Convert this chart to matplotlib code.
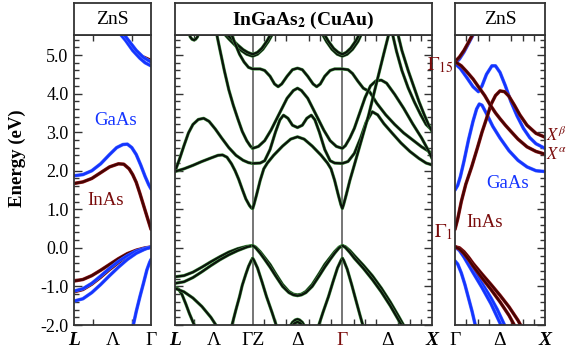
import matplotlib
matplotlib.use('Agg')
import matplotlib.pyplot as plt
import matplotlib.patheffects as pe
from matplotlib.ticker import MultipleLocator, FixedLocator, FormatStrFormatter

plt.rcParams['font.family'] = ['Liberation Serif', 'DejaVu Serif']
plt.rcParams['mathtext.fontset'] = 'stix'
plt.rcParams['axes.unicode_minus'] = False

# ---- ZnS-like folded bands, L -> Gamma (left panel), k in 2pi/a
gaas_l_cb = [(0, 1.87), (0.1, 1.9), (0.2, 2.0), (0.3, 2.18), (0.4, 2.42), (0.48, 2.6), (0.55, 2.68),
             (0.6, 2.69), (0.65, 2.6), (0.7, 2.42), (0.75, 2.15), (0.8, 1.85), (0.84, 1.64), (0.866, 1.53)]
inas_l_cb = [(0, 1.67), (0.1, 1.71), (0.2, 1.8), (0.3, 1.95), (0.4, 2.1), (0.5, 2.18), (0.56, 2.17),
             (0.62, 2.05), (0.66, 1.9), (0.7, 1.7), (0.74, 1.42), (0.78, 1.12), (0.82, 0.82), (0.866, 0.48)]
gaas_l_hi1 = [(0.5, 5.6), (0.58, 5.38), (0.66, 5.12), (0.74, 4.92), (0.8, 4.8), (0.866, 4.72)]
gaas_l_hi2 = [(0.54, 5.6), (0.62, 5.36), (0.7, 5.12), (0.78, 4.94), (0.866, 4.82)]
inas_l_hi = [(0.52, 5.6), (0.6, 5.4), (0.68, 5.15), (0.76, 4.97), (0.866, 4.86)]
inas_l_v1 = [(0, -0.86), (0.1, -0.82), (0.2, -0.72), (0.3, -0.58), (0.4, -0.43), (0.5, -0.28),
             (0.6, -0.15), (0.7, -0.06), (0.8, 0.0), (0.866, 0.02)]
inas_l_v2 = [(0, -1.14), (0.1, -1.08), (0.2, -0.94), (0.3, -0.76), (0.4, -0.56), (0.5, -0.38),
             (0.6, -0.22), (0.7, -0.1), (0.8, -0.02), (0.866, 0.02)]
gaas_l_v1 = [(0, -1.12), (0.1, -1.06), (0.2, -0.92), (0.3, -0.73), (0.4, -0.53), (0.5, -0.35),
             (0.6, -0.2), (0.7, -0.08), (0.8, -0.01), (0.866, 0.02)]
gaas_l_v2 = [(0, -1.38), (0.1, -1.32), (0.2, -1.16), (0.3, -0.95), (0.4, -0.72), (0.5, -0.5),
             (0.6, -0.3), (0.7, -0.14), (0.8, -0.03), (0.866, 0.02)]
gaas_l_so = [(0.866, -0.3), (0.85, -0.38), (0.82, -0.57), (0.78, -0.93), (0.742, -1.26),
             (0.7, -1.65), (0.667, -2.0), (0.66, -2.06)]

# ---- InGaAs2 (CuAu): L -> Gamma(Z) -> Gamma -> X
m_arc = [(0.15, 5.6), (0.17, 5.47), (0.19, 5.41), (0.21, 5.39), (0.23, 5.41), (0.25, 5.47), (0.27, 5.6)]
m_steep = [(0.46, 5.6), (0.5, 5.15), (0.55, 4.6), (0.6, 4.1), (0.65, 3.7), (0.7, 3.35), (0.75, 3.02),
           (0.8, 2.78), (0.84, 2.64), (0.866, 2.58)]
m_peak = [(0, 1.98), (0.05, 2.3), (0.1, 2.65), (0.15, 2.98), (0.2, 3.2), (0.26, 3.33), (0.32, 3.36),
          (0.38, 3.28), (0.45, 3.08), (0.52, 2.85), (0.6, 2.6), (0.68, 2.4), (0.76, 2.27), (0.82, 2.21),
          (0.866, 2.19)]
m_low = [(0, 1.98), (0.1, 2.05), (0.2, 2.14), (0.3, 2.24), (0.4, 2.33), (0.48, 2.4), (0.53, 2.41),
         (0.58, 2.35), (0.63, 2.18), (0.67, 2.0), (0.71, 1.78), (0.75, 1.52), (0.79, 1.27),
         (0.83, 1.1), (0.85, 1.04), (0.866, 1.02)]
m_u1 = [(0.53, 5.6), (0.6, 5.42), (0.685, 5.22), (0.75, 5.1), (0.8, 5.02), (0.866, 4.97), (0.92, 5.02),
        (0.98, 5.15), (1.04, 5.35), (1.1, 5.6)]
m_u2 = [(0.55, 5.6), (0.62, 5.44), (0.7, 5.26), (0.76, 5.14), (0.81, 5.07), (0.866, 5.02), (0.92, 5.07),
        (0.97, 5.18), (1.03, 5.38), (1.08, 5.6)]
m_u3 = [(1.63, 5.6), (1.69, 5.35), (1.75, 5.15), (1.81, 5.02), (1.866, 4.97), (1.92, 5.02),
        (1.98, 5.15), (2.04, 5.35), (2.09, 5.6)]
m_u4 = [(1.65, 5.6), (1.71, 5.36), (1.77, 5.17), (1.82, 5.07), (1.866, 5.02), (1.91, 5.07),
        (1.96, 5.18), (2.02, 5.38), (2.07, 5.6)]
m_w = [(0.62, 5.6), (0.67, 5.3), (0.72, 5.02), (0.77, 4.82), (0.82, 4.68), (0.866, 4.64),
       (0.95, 4.64), (1.0, 4.6), (1.06, 4.45), (1.11, 4.25), (1.15, 4.18), (1.19, 4.25),
       (1.25, 4.45), (1.31, 4.62), (1.366, 4.66), (1.42, 4.62), (1.48, 4.45), (1.54, 4.25), (1.58, 4.18),
       (1.62, 4.25), (1.67, 4.45), (1.73, 4.6), (1.78, 4.64), (1.866, 4.64), (1.93, 4.62), (1.98, 4.52),
       (2.04, 4.32), (2.1, 4.14), (2.17, 4.05), (2.25, 3.75), (2.35, 3.45), (2.45, 3.2), (2.55, 2.98),
       (2.65, 2.8), (2.75, 2.62), (2.866, 2.45)]
m_hump = [(0.866, 2.58), (0.93, 2.63), (1.0, 2.78), (1.07, 3.05), (1.15, 3.42), (1.25, 3.88),
          (1.32, 4.08), (1.366, 4.14), (1.41, 4.08), (1.48, 3.88), (1.58, 3.42), (1.66, 3.05),
          (1.73, 2.78), (1.8, 2.63), (1.866, 2.58), (1.9, 2.65), (1.95, 2.85), (2.0, 3.1), (2.06, 3.5),
          (2.12, 3.9), (2.18, 4.2), (2.24, 4.33), (2.3, 4.35), (2.36, 4.27), (2.45, 3.98), (2.55, 3.62),
          (2.65, 3.22), (2.75, 2.85), (2.82, 2.55), (2.866, 2.32)]
m_m = [(0.866, 2.19), (0.95, 2.2), (1.0, 2.26), (1.06, 2.55), (1.12, 3.0), (1.17, 3.32), (1.21, 3.44),
       (1.26, 3.36), (1.31, 3.18), (1.366, 3.12), (1.42, 3.18), (1.47, 3.36), (1.52, 3.44), (1.56, 3.32),
       (1.61, 3.0), (1.67, 2.55), (1.73, 2.26), (1.78, 2.2), (1.866, 2.19), (1.93, 2.24), (2.0, 2.45),
       (2.07, 2.85), (2.13, 3.25), (2.2, 3.53), (2.26, 3.45), (2.33, 3.22), (2.42, 2.98), (2.52, 2.72),
       (2.62, 2.5), (2.72, 2.32), (2.8, 2.2), (2.866, 2.15)]
m_v = [(0.866, 1.02), (0.88, 1.12), (0.91, 1.38), (0.95, 1.75), (0.99, 2.05), (1.03, 2.2), (1.1, 2.4),
       (1.2, 2.64), (1.29, 2.82), (1.366, 2.88), (1.44, 2.82), (1.53, 2.64), (1.63, 2.4), (1.7, 2.2),
       (1.74, 2.05), (1.78, 1.75), (1.82, 1.38), (1.85, 1.12), (1.866, 1.02), (1.88, 1.12), (1.91, 1.38),
       (1.95, 1.75), (2.0, 2.15), (2.07, 2.72), (2.16, 3.45), (2.25, 4.3), (2.33, 5.05), (2.39, 5.6)]
m_b4 = [(2.42, 5.6), (2.47, 5.1), (2.53, 4.6), (2.6, 4.15), (2.67, 3.78), (2.74, 3.45), (2.8, 3.2),
        (2.866, 3.05)]
m_b5 = [(2.48, 5.6), (2.53, 5.12), (2.6, 4.6), (2.66, 4.2), (2.72, 3.8), (2.78, 3.45), (2.83, 3.18),
        (2.866, 3.02)]
m_v1 = [(0, -0.75), (0.1, -0.72), (0.2, -0.63), (0.3, -0.5), (0.4, -0.36), (0.5, -0.23), (0.6, -0.11),
        (0.7, -0.02), (0.8, 0.04), (0.866, 0.06)]
m_v2 = [(0, -0.92), (0.1, -0.88), (0.2, -0.77), (0.3, -0.62), (0.4, -0.46), (0.5, -0.31), (0.6, -0.18),
        (0.7, -0.07), (0.8, 0.02), (0.866, 0.06)]
m_v3 = [(0, -1.02), (0.04, -1.07), (0.08, -1.22), (0.12, -1.45), (0.16, -1.7), (0.2, -1.92), (0.225, -2.05)]
m_v4 = [(0, -1.05), (0.1, -1.14), (0.2, -1.3), (0.3, -1.52), (0.4, -1.8), (0.47, -2.05)]
m_v5 = [(0.866, -0.27), (0.85, -0.33), (0.82, -0.48), (0.79, -0.68), (0.75, -0.97), (0.72, -1.26),
        (0.68, -1.6), (0.63, -2.05)]
m_v6 = [(0.866, 0.06), (0.9, 0.02), (0.95, -0.1), (1.0, -0.25), (1.06, -0.43), (1.12, -0.66), (1.2, -0.95),
        (1.27, -1.13), (1.32, -1.2), (1.366, -1.22), (1.41, -1.2), (1.46, -1.13), (1.53, -0.95),
        (1.61, -0.66), (1.67, -0.43), (1.73, -0.25), (1.78, -0.1), (1.83, 0.02), (1.866, 0.06)]
m_v7 = [(0.866, 0.06), (0.9, 0.0), (0.95, -0.14), (1.0, -0.3), (1.06, -0.5), (1.12, -0.72), (1.2, -1.0),
        (1.27, -1.16), (1.32, -1.22), (1.366, -1.24), (1.41, -1.22), (1.46, -1.16), (1.53, -1.0),
        (1.61, -0.72), (1.67, -0.5), (1.73, -0.3), (1.78, -0.14), (1.83, 0.0), (1.866, 0.06)]
m_v8 = [(0.866, -0.27), (0.88, -0.32), (0.92, -0.52), (0.97, -0.88), (1.02, -1.26), (1.08, -1.66), (1.135, -2.05)]
m_v9 = [(1.866, -0.27), (1.852, -0.32), (1.812, -0.52), (1.762, -0.88), (1.712, -1.26), (1.652, -1.66),
        (1.597, -2.05)]
m_dome1 = [(1.28, -2.05), (1.31, -1.93), (1.34, -1.87), (1.366, -1.85), (1.39, -1.87), (1.42, -1.93), (1.45, -2.05)]
m_dome2 = [(1.3, -2.05), (1.33, -1.96), (1.366, -1.92), (1.4, -1.96), (1.43, -2.05)]
m_v10 = [(1.866, 0.06), (1.9, 0.03), (1.95, -0.07), (2.0, -0.2), (2.1, -0.45), (2.2, -0.72), (2.3, -1.04),
         (2.4, -1.4), (2.5, -1.8), (2.56, -2.05)]
m_v11 = [(1.866, 0.06), (1.9, 0.01), (1.95, -0.12), (2.0, -0.27), (2.1, -0.53), (2.2, -0.82), (2.3, -1.14),
         (2.4, -1.5), (2.5, -1.9), (2.54, -2.05)]
m_v12 = [(1.866, -0.27), (1.88, -0.32), (1.92, -0.55), (1.97, -0.95), (2.02, -1.38), (2.06, -1.72), (2.1, -2.05)]

# ---- Gamma -> X (right panel)
gaas_r_up = [(0, 4.78), (0.05, 4.9), (0.1, 5.08), (0.15, 5.3), (0.2, 5.52), (0.22, 5.62)]
inas_r_up = [(0, 4.83), (0.05, 4.95), (0.1, 5.12), (0.15, 5.33), (0.2, 5.55), (0.215, 5.62)]
gaas_r_dp = [(0, 4.78), (0.06, 4.65), (0.13, 4.42), (0.2, 4.18), (0.26, 4.05), (0.3, 4.2), (0.35, 4.5),
             (0.41, 4.72), (0.45, 4.72), (0.5, 4.55), (0.56, 4.2), (0.62, 3.8), (0.69, 3.42), (0.76, 3.1),
             (0.83, 2.86), (0.9, 2.7), (1.0, 2.58)]
gaas_r_g1 = [(0, 1.5), (0.03, 1.62), (0.06, 1.85), (0.1, 2.25), (0.15, 2.8), (0.2, 3.28), (0.24, 3.6),
             (0.27, 3.73), (0.3, 3.7), (0.35, 3.48), (0.42, 3.15), (0.5, 2.85), (0.6, 2.52), (0.7, 2.27),
             (0.8, 2.1), (0.9, 2.0), (1.0, 1.98)]
inas_r_g1 = [(0, 0.48), (0.03, 0.75), (0.07, 1.2), (0.12, 1.65), (0.185, 2.1), (0.25, 2.6), (0.3, 3.0),
             (0.35, 3.35), (0.4, 3.72), (0.45, 3.95), (0.5, 4.07), (0.55, 4.05), (0.6, 3.93), (0.66, 3.7),
             (0.72, 3.45), (0.8, 3.18), (0.9, 2.97), (1.0, 2.87)]
inas_r_dn = [(0, 4.83), (0.07, 4.72), (0.13, 4.57), (0.2, 4.38), (0.26, 4.18), (0.33, 3.95), (0.39, 3.71),
             (0.45, 3.5), (0.5, 3.35), (0.56, 3.18), (0.61, 3.05), (0.7, 2.82), (0.8, 2.62), (0.9, 2.5),
             (1.0, 2.43)]
inas_r_v1 = [(0, 0.03), (0.05, 0.0), (0.1, -0.1), (0.15, -0.24), (0.2, -0.4), (0.3, -0.68), (0.4, -0.95),
             (0.5, -1.23), (0.6, -1.53), (0.7, -1.88), (0.74, -2.05)]
inas_r_v2 = [(0, 0.03), (0.05, -0.03), (0.1, -0.15), (0.15, -0.3), (0.2, -0.47), (0.3, -0.78), (0.4, -1.08),
             (0.5, -1.4), (0.6, -1.75), (0.67, -2.05)]
gaas_r_v1 = [(0, 0.03), (0.05, -0.05), (0.1, -0.2), (0.15, -0.38), (0.2, -0.56), (0.3, -0.92), (0.4, -1.3),
             (0.47, -1.6), (0.53, -1.9), (0.56, -2.05)]
gaas_r_v2 = [(0, 0.03), (0.05, -0.07), (0.1, -0.24), (0.15, -0.44), (0.2, -0.64), (0.3, -1.03), (0.4, -1.45),
             (0.47, -1.8), (0.52, -2.05)]
gaas_r_so = [(0, -0.34), (0.03, -0.42), (0.07, -0.65), (0.11, -0.95), (0.15, -1.3), (0.19, -1.65), (0.23, -2.05)]

left_kpts = [0, 0.433, 0.866]
left_klabels = ['L', 'Λ', 'Γ']
mid_kpts = [0, 0.433, 0.866, 1.366, 1.866, 2.366, 2.866]
mid_klabels = ['L', 'Λ', 'ΓZ', 'Δ', 'Γ', 'Δ', 'X']
right_kpts = [0, 0.5, 1.0]
right_klabels = ['Γ', 'Δ', 'X']

BLUE, BLUE_EDGE = '#1434ff', '#4f6dff'
RED, RED_EDGE = '#480303', '#a02424'
MID, MID_EDGE = '#0b130b', '#4e9c4e'
LBL_RED = '#7a0c0c'
EMIN, EMAX = -2.0, 5.52

W, H = 567, 353
fig = plt.figure(figsize=(W / 100, H / 100), dpi=100)


def px_axes(x0, y0, x1, y1):
    return fig.add_axes([x0 / W, 1 - y1 / H, (x1 - x0) / W, (y1 - y0) / H])


def draw(ax, band, color, edge, lw=1.6):
    k, e = zip(*band)
    ax.plot(k, e, color=color, lw=lw, solid_joinstyle='round', solid_capstyle='round',
            path_effects=[pe.Stroke(linewidth=lw + 0.7, foreground=edge), pe.Normal()])


def style(ax, kmax, kpts, klabels, minor, left, right):
    ax.set_xlim(0, kmax)
    ax.set_ylim(EMIN, EMAX)
    ax.set_xticks(kpts, klabels)
    ax.xaxis.set_minor_locator(FixedLocator(minor))
    ax.tick_params(axis='x', which='major', length=0, pad=5, labelsize=14)
    ax.tick_params(axis='x', which='minor', direction='in', top=True, bottom=True, length=4,
                   width=1.0, color='#333333')
    ax.yaxis.set_major_locator(MultipleLocator(1.0))
    ax.yaxis.set_minor_locator(MultipleLocator(0.2))
    ax.yaxis.set_major_formatter(FormatStrFormatter('%.1f'))
    ax.tick_params(axis='y', which='both', direction='in', left=left, right=right,
                   labelleft=False, color='#333333', width=1.0)
    ax.tick_params(axis='y', which='major', length=6)
    ax.tick_params(axis='y', which='minor', length=3.5)
    for s in ax.spines.values():
        s.set_color('#333333')
        s.set_linewidth(1.3)
    for t in ax.get_xticklabels():
        if t.get_text() in ('L', 'X'):
            t.set_fontstyle('italic')
            t.set_fontweight('bold')


def title_box(x0, x1, text, bold=False):
    tax = px_axes(x0, 3, x1, 35)
    tax.set_xticks([])
    tax.set_yticks([])
    for s in tax.spines.values():
        s.set_color('#333333')
        s.set_linewidth(1.3)
    tax.text(0.5, 0.47, text, ha='center', va='center', fontsize=14,
             fontweight='bold' if bold else 'normal')


# left panel
ax1 = px_axes(74, 35, 151, 325)
for b in [inas_l_cb, inas_l_hi, inas_l_v1, inas_l_v2]:
    draw(ax1, b, RED, RED_EDGE, lw=1.8)
for b in [gaas_l_cb, gaas_l_hi1, gaas_l_hi2, gaas_l_v1, gaas_l_v2, gaas_l_so]:
    draw(ax1, b, BLUE, BLUE_EDGE, lw=1.8)
style(ax1, 0.866, left_kpts, left_klabels, [0.2165, 0.433, 0.6495], True, False)
ax1.tick_params(axis='y', labelleft=True, labelsize=13, pad=4)
ax1.text(0.47, 3.3, 'GaAs', color=BLUE, fontsize=13.5, ha='center', va='center')
ax1.text(0.35, 1.24, 'InAs', color=LBL_RED, fontsize=13.5, ha='center', va='center')
title_box(74, 151, 'ZnS')

# middle panel
ax2 = px_axes(175, 35, 432, 325)
ax2.axvline(0.866, color='#6a6a6a', lw=1.3, zorder=1)
ax2.axvline(1.866, color='#6a6a6a', lw=1.3, zorder=1)
mid_bands = [m_arc, m_steep, m_peak, m_low, m_u1, m_u2, m_u3, m_u4, m_w, m_hump, m_m, m_v,
             m_b4, m_b5, m_v1, m_v2, m_v3, m_v4, m_v5, m_v6, m_v7, m_v8, m_v9, m_dome1, m_dome2,
             m_v10, m_v11, m_v12]
for b in mid_bands:
    draw(ax2, b, MID, MID_EDGE, lw=1.6)
mid_minor = [0.2165, 0.433, 0.6495] + [0.866 + n * 0.125 for n in range(1, 8)] + \
            [1.866 + n * 0.125 for n in range(1, 8)]
style(ax2, 2.866, mid_kpts, mid_klabels, mid_minor, True, True)
ax2.get_xticklabels()[4].set_color(LBL_RED)
title_box(175, 432, r'InGaAs$_{\mathbf{2}}$ (CuAu)', bold=True)

# right panel
ax3 = px_axes(455, 35, 545, 325)
for b in [gaas_r_g1, gaas_r_up, gaas_r_dp, gaas_r_v1, gaas_r_v2, gaas_r_so]:
    draw(ax3, b, BLUE, BLUE_EDGE, lw=1.8)
for b in [inas_r_up, inas_r_g1, inas_r_dn, inas_r_v1, inas_r_v2]:
    draw(ax3, b, RED, RED_EDGE, lw=1.8)
style(ax3, 1.0, right_kpts, right_klabels, [n * 0.125 for n in range(1, 8)], False, True)
ax3.text(0.58, 1.66, 'GaAs', color=BLUE, fontsize=13.5, ha='center', va='center')
ax3.text(0.33, 0.65, 'InAs', color=LBL_RED, fontsize=13.5, ha='center', va='center')
ax3.text(-0.02, 4.75, r'$\Gamma_{15}$', color=LBL_RED, fontsize=14, ha='right', va='center', clip_on=False)
ax3.text(-0.02, 0.42, r'$\Gamma_{1}$', color=LBL_RED, fontsize=14, ha='right', va='center', clip_on=False)
ax3.text(1.01, 2.92, r'$X^{\beta}$', color=LBL_RED, fontsize=12, ha='left', va='center', clip_on=False)
ax3.text(1.01, 2.4, r'$X^{\alpha}$', color=LBL_RED, fontsize=12, ha='left', va='center', clip_on=False)
title_box(455, 545, 'ZnS')

fig.text(17 / W, 1 - 158 / H, 'Energy (eV)', rotation=90, ha='center', va='center',
         fontsize=13.5, fontweight='bold')

fig.savefig('out.png', dpi=100)
